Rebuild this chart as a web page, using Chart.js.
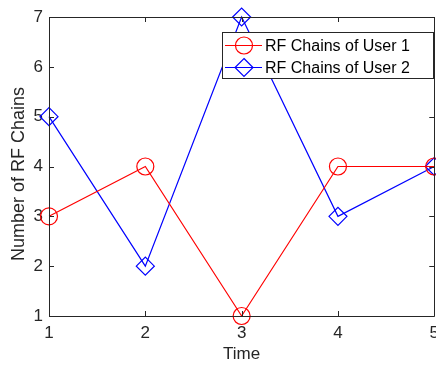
<!DOCTYPE html>
<html lang="en">
<head>
    <meta charset="UTF-8">
    <title>RF Chains per User</title>
    <script src="https://cdn.jsdelivr.net/npm/chart.js"></script>
    <style>
        html, body { margin: 0; padding: 0; background: #fff; overflow: hidden; }
        #wrap { width: 446px; height: 365px; }
    </style>
</head>
<body>
    <div id="wrap"><canvas id="rfChart" width="446" height="365"></canvas></div>

    <script>
        // data
        const times = [1, 2, 3, 4, 5];
        const user1 = [3, 4, 1, 4, 4];
        const user2 = [5, 2, 7, 3, 4];
        const xTicks = [1, 2, 3, 4, 5];
        const yTicks = [1, 2, 3, 4, 5, 6, 7];
        const seriesNames = ['RF Chains of User 1', 'RF Chains of User 2'];

        const axisColor = '#262626';
        const fontFamily = '"Liberation Sans", Arial, Helvetica, sans-serif';

        // MATLAB style box with inward ticks + legend inside the axes
        const matlabBox = {
            id: 'matlabBox',
            afterDraw(chart) {
                const ctx = chart.ctx;
                const a = chart.chartArea;
                const xs = chart.scales.x, ys = chart.scales.y;
                const tl = 5;
                ctx.save();
                ctx.strokeStyle = axisColor;
                ctx.lineWidth = 1;
                ctx.beginPath();
                ctx.rect(Math.round(a.left) + 0.5, Math.round(a.top) + 0.5,
                    Math.round(a.right - a.left), Math.round(a.bottom - a.top));
                xTicks.forEach(function (t) {
                    const px = Math.round(xs.getPixelForValue(t)) + 0.5;
                    ctx.moveTo(px, a.bottom); ctx.lineTo(px, a.bottom - tl);
                    ctx.moveTo(px, a.top); ctx.lineTo(px, a.top + tl);
                });
                yTicks.forEach(function (t) {
                    const py = Math.round(ys.getPixelForValue(t)) + 0.5;
                    ctx.moveTo(a.left, py); ctx.lineTo(a.left + tl, py);
                    ctx.moveTo(a.right, py); ctx.lineTo(a.right - tl, py);
                });
                ctx.stroke();

                // y title, placed like matlab does it
                ctx.save();
                ctx.translate(19, 174);
                ctx.rotate(-Math.PI / 2);
                ctx.font = '18px ' + fontFamily;
                ctx.fillStyle = axisColor;
                ctx.textAlign = 'center';
                ctx.textBaseline = 'middle';
                ctx.fillText('Number of RF Chains', 0, 0);
                ctx.restore();

                // legend
                const bx = 222.5, by = 32.5, bw = 211, bh = 46;
                ctx.fillStyle = '#fff';
                ctx.fillRect(bx, by, bw, bh);
                ctx.strokeStyle = axisColor;
                ctx.strokeRect(bx, by, bw, bh);
                ctx.font = '16px ' + fontFamily;
                ctx.textBaseline = 'middle';
                chart.data.datasets.forEach(function (ds, i) {
                    const cy = by + 13 + i * 22;
                    ctx.strokeStyle = ds.borderColor;
                    ctx.lineWidth = ds.borderWidth;
                    ctx.beginPath();
                    ctx.moveTo(225, cy); ctx.lineTo(262, cy);
                    ctx.stroke();
                    const mx = 244, r = ds.pointRadius;
                    ctx.beginPath();
                    if (ds.pointStyle === 'circle') {
                        ctx.arc(mx, cy, r, 0, Math.PI * 2);
                    } else {
                        ctx.moveTo(mx, cy - r); ctx.lineTo(mx + r, cy);
                        ctx.lineTo(mx, cy + r); ctx.lineTo(mx - r, cy);
                        ctx.closePath();
                    }
                    ctx.stroke();
                    ctx.fillStyle = '#000';
                    ctx.fillText(ds.label, 265, cy + 1);
                });
                ctx.restore();
            }
        };

        const ctx = document.getElementById('rfChart').getContext('2d');
        const chart = new Chart(ctx, {
            type: 'line',
            data: {
                datasets: [
                    {
                        label: seriesNames[0],
                        data: times.map(function (t, i) { return { x: t, y: user1[i] }; }),
                        borderColor: '#ff0000',
                        backgroundColor: 'rgba(0,0,0,0)',
                        borderWidth: 1.2,
                        pointStyle: 'circle',
                        pointRadius: 8.5,
                        pointBorderWidth: 1.2,
                        pointBackgroundColor: 'rgba(0,0,0,0)',
                        tension: 0,
                        clip: false
                    },
                    {
                        label: seriesNames[1],
                        data: times.map(function (t, i) { return { x: t, y: user2[i] }; }),
                        borderColor: '#0000ff',
                        backgroundColor: 'rgba(0,0,0,0)',
                        borderWidth: 1.2,
                        pointStyle: 'rectRot',
                        pointRadius: 9,
                        pointBorderWidth: 1.2,
                        pointBackgroundColor: 'rgba(0,0,0,0)',
                        tension: 0,
                        clip: false
                    }
                ]
            },
            options: {
                responsive: false,
                animation: false,
                layout: { padding: { top: 17, right: 6, left: 0, bottom: 0 } },
                plugins: {
                    legend: { display: false },
                    tooltip: { enabled: false }
                },
                scales: {
                    x: {
                        type: 'linear',
                        min: 1, max: 5,
                        afterFit: function (s) { s.height = 49; },
                        afterBuildTicks: function (s) { s.ticks = xTicks.map(function (v) { return { value: v }; }); },
                        grid: { display: false, drawTicks: false },
                        border: { display: false },
                        ticks: {
                            color: axisColor,
                            font: { family: fontFamily, size: 17 },
                            padding: 7,
                            maxRotation: 0
                        },
                        title: {
                            display: true,
                            text: 'Time',
                            color: axisColor,
                            font: { family: fontFamily, size: 17 },
                            padding: { top: 0, bottom: 0 }
                        }
                    },
                    y: {
                        type: 'linear',
                        min: 1, max: 7,
                        afterFit: function (s) { s.width = 49; },
                        afterBuildTicks: function (s) { s.ticks = yTicks.map(function (v) { return { value: v }; }); },
                        grid: { display: false, drawTicks: false },
                        border: { display: false },
                        ticks: {
                            color: axisColor,
                            font: { family: fontFamily, size: 17 },
                            padding: 6
                        }
                    }
                }
            },
            plugins: [matlabBox]
        });
    </script>
</body>
</html>
